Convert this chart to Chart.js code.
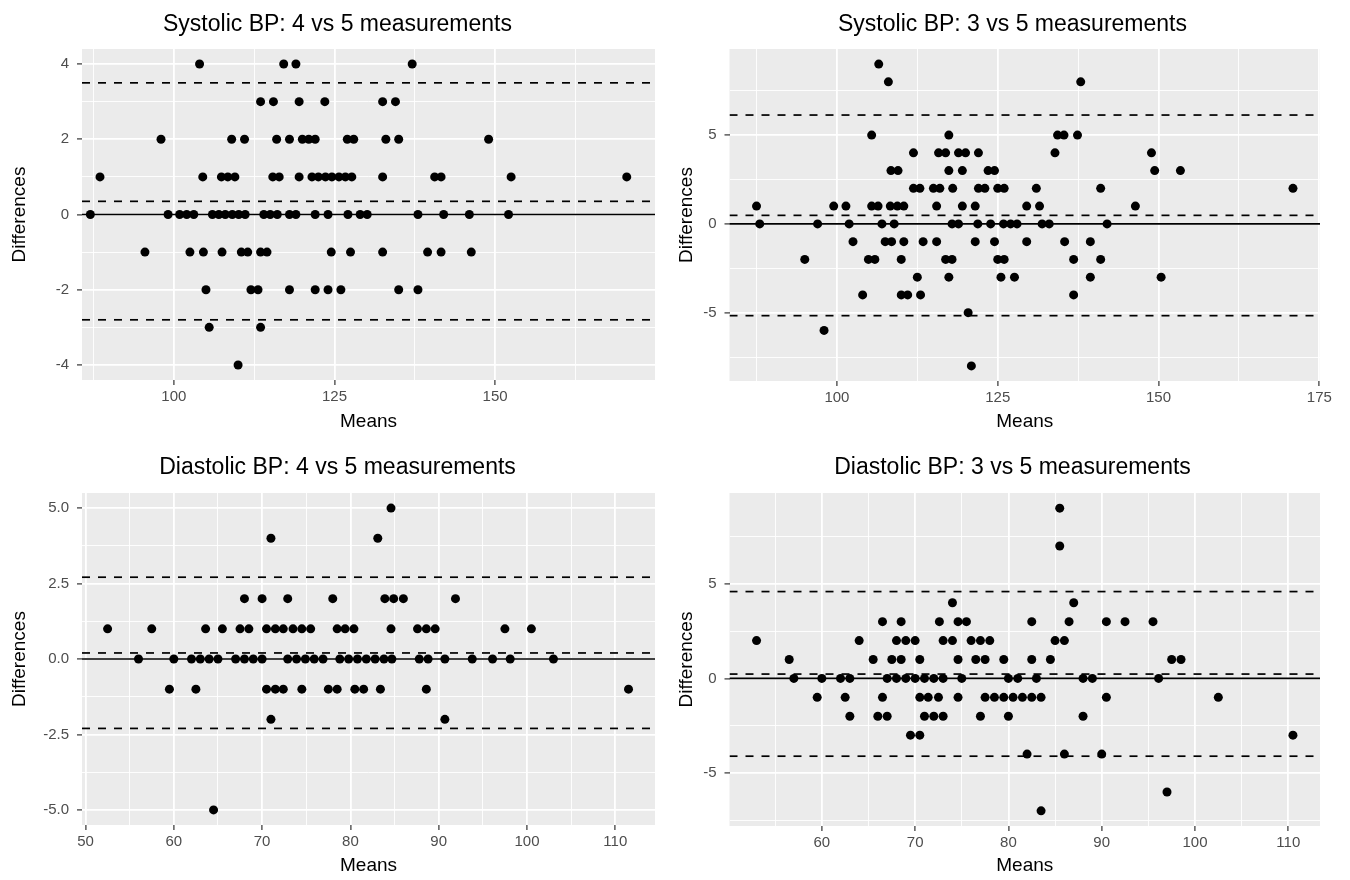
<!DOCTYPE html>
<html>
<head>
<meta charset="utf-8">
<script src="https://cdn.jsdelivr.net/npm/chart.js@4.4.0/dist/chart.umd.min.js"></script>
<style>
  body { margin: 0; background: #ffffff; }
  #wrap { position: relative; width: 1350px; height: 880px; }
  canvas { position: absolute; }
</style>
</head>
<body>
<div id="wrap">
  <canvas id="sys45" width="675" height="440" style="left:0;top:0"></canvas>
  <canvas id="sys35" width="675" height="440" style="left:675px;top:0"></canvas>
  <canvas id="dia45" width="675" height="440" style="left:0;top:440px"></canvas>
  <canvas id="dia35" width="675" height="440" style="left:675px;top:440px"></canvas>
</div>
<script>
// Points are [mean, difference], grouped by difference level

// Systolic BP: 4 vs 5 measurements
const sys45Points = [
  [104, 4], [117.1, 4], [119, 4], [137.1, 4],
  [113.5, 3], [115.5, 3], [119.5, 3], [123.5, 3], [132.5, 3], [134.5, 3],
  [98, 2], [109, 2], [111, 2], [116, 2], [118, 2], [120, 2], [121, 2], [122, 2], [127, 2],
  [128, 2], [133, 2], [135, 2], [149, 2],
  [88.5, 1], [104.5, 1], [107.4, 1], [108.4, 1], [109.5, 1], [115.4, 1], [116.4, 1], [119.5, 1],
  [121.5, 1], [122.5, 1], [123.6, 1], [124.6, 1], [125.7, 1], [126.7, 1], [127.7, 1], [132.5, 1],
  [140.6, 1], [141.6, 1], [152.5, 1], [170.5, 1],
  [87, 0], [99.1, 0], [100.9, 0], [102, 0], [103.1, 0], [106, 0], [107, 0], [108, 0], [109.1, 0],
  [110.1, 0], [111.1, 0], [114, 0], [115, 0], [116.1, 0], [118, 0], [119, 0], [122, 0], [124, 0],
  [127.1, 0], [129, 0], [130.1, 0], [138, 0], [142, 0], [146, 0], [152.1, 0],
  [95.5, -1], [102.5, -1], [104.6, -1], [107.5, -1], [110.5, -1], [111.5, -1], [113.5, -1],
  [114.5, -1], [124.5, -1], [127.5, -1], [132.5, -1], [139.5, -1], [141.6, -1], [146.3, -1],
  [105, -2], [112, -2], [113.1, -2], [118, -2], [122, -2], [124, -2], [126, -2], [135, -2], [138, -2],
  [105.5, -3], [113.5, -3],
  [110, -4]
];
const sys45Limits = [3.50, 0.35, -2.80];   // upper LoA, mean difference, lower LoA
const sys45XRange = [85.7, 174.9];
const sys45YRange = [-4.4, 4.4];
const sys45XTicks = [100, 125, 150];
const sys45YTicks = [-4, -2, 0, 2, 4];

// Systolic BP: 3 vs 5 measurements
const sys35Points = [
  [106.5, 9],
  [108, 8], [137.9, 8],
  [105.4, 5], [117.4, 5], [134.3, 5], [135.3, 5], [137.4, 5],
  [111.9, 4], [115.8, 4], [116.9, 4], [118.9, 4], [120, 4], [122, 4], [133.9, 4], [148.9, 4],
  [108.4, 3], [109.5, 3], [117.4, 3], [119.5, 3], [123.5, 3], [124.5, 3], [149.4, 3], [153.4, 3],
  [111.9, 2], [112.9, 2], [115, 2], [116, 2], [118, 2], [122, 2], [123, 2], [125, 2], [126, 2],
  [131, 2], [141, 2], [170.9, 2],
  [87.5, 1], [99.5, 1], [101.4, 1], [105.4, 1], [106.4, 1], [108.3, 1], [109.4, 1], [110.4, 1],
  [115.5, 1], [119.5, 1], [121.5, 1], [129.5, 1], [131.5, 1], [146.4, 1],
  [88, 0], [97, 0], [101.9, 0], [107, 0], [108.9, 0], [117.9, 0], [118.9, 0], [121.9, 0], [123.9, 0],
  [125.9, 0], [127, 0], [128, 0], [131.9, 0], [133, 0], [142, 0],
  [102.5, -1], [107.5, -1], [108.5, -1], [110.4, -1], [113.4, -1], [115.5, -1], [121.5, -1],
  [124.5, -1], [129.5, -1], [135.4, -1], [139.4, -1],
  [95, -2], [104.9, -2], [105.9, -2], [110, -2], [116.9, -2], [117.9, -2], [125, -2], [126, -2],
  [136.8, -2], [141, -2],
  [112.5, -3], [117.4, -3], [125.5, -3], [127.6, -3], [139.4, -3], [150.4, -3],
  [104, -4], [110, -4], [111, -4], [113, -4], [136.8, -4],
  [120.4, -5],
  [98, -6],
  [120.9, -8]
];
const sys35Limits = [6.13, 0.48, -5.17];
const sys35XRange = [83.3, 175.1];
const sys35YRange = [-8.85, 9.85];
const sys35XTicks = [100, 125, 150, 175];
const sys35YTicks = [-5, 0, 5];

// Diastolic BP: 4 vs 5 measurements
const dia45Points = [
  [84.6, 5],
  [71, 4], [83.1, 4],
  [68, 2], [70, 2], [72.9, 2], [78, 2], [83.9, 2], [84.9, 2], [86, 2], [91.9, 2],
  [52.5, 1], [57.5, 1], [63.6, 1], [65.5, 1], [67.5, 1], [68.5, 1], [70.5, 1], [71.5, 1], [72.4, 1],
  [73.5, 1], [74.5, 1], [75.5, 1], [78.5, 1], [79.4, 1], [80.4, 1], [84.6, 1], [87.6, 1], [88.6, 1],
  [89.6, 1], [97.5, 1], [100.5, 1],
  [56, 0], [60, 0], [62, 0], [63, 0], [64, 0], [65, 0], [67, 0], [68, 0], [69, 0], [70, 0],
  [72.9, 0], [73.9, 0], [74.9, 0], [75.9, 0], [76.9, 0], [78.8, 0], [79.8, 0], [80.8, 0], [81.8, 0],
  [82.8, 0], [83.8, 0], [84.7, 0], [87.8, 0], [88.8, 0], [90.7, 0], [93.8, 0], [96.1, 0], [98.1, 0],
  [103, 0],
  [59.5, -1], [62.5, -1], [70.5, -1], [71.5, -1], [72.4, -1], [74.5, -1], [77.5, -1], [78.5, -1],
  [80.5, -1], [81.5, -1], [83.4, -1], [88.6, -1], [111.5, -1],
  [71, -2], [90.7, -2],
  [64.5, -5]
];
const dia45Limits = [2.71, 0.20, -2.30];
const dia45XRange = [49.6, 114.5];
const dia45YRange = [-5.5, 5.5];
const dia45XTicks = [50, 60, 70, 80, 90, 100, 110];
const dia45YTicks = [-5, -2.5, 0, 2.5, 5];

// Diastolic BP: 3 vs 5 measurements
const dia35Points = [
  [85.5, 9],
  [85.5, 7],
  [74, 4], [87, 4],
  [66.5, 3], [68.5, 3], [72.6, 3], [74.6, 3], [75.5, 3], [82.5, 3], [86.5, 3], [90.5, 3],
  [92.5, 3], [95.5, 3],
  [53, 2], [64, 2], [68, 2], [69, 2], [70, 2], [73, 2], [74, 2], [76, 2], [77, 2], [78, 2],
  [85, 2], [86, 2],
  [56.5, 1], [65.5, 1], [67.5, 1], [68.5, 1], [70.5, 1], [74.6, 1], [76.5, 1], [77.5, 1],
  [79.5, 1], [82.5, 1], [84.5, 1], [97.5, 1], [98.5, 1],
  [57, 0], [60, 0], [62, 0], [63, 0], [67, 0], [68, 0], [69, 0], [70, 0], [71, 0], [72, 0],
  [73, 0], [75, 0], [80, 0], [81, 0], [83, 0], [88, 0], [89, 0], [96.1, 0],
  [59.5, -1], [62.5, -1], [66.5, -1], [70.5, -1], [71.4, -1], [72.5, -1], [74.6, -1], [77.5, -1],
  [78.5, -1], [79.5, -1], [80.5, -1], [81.5, -1], [82.5, -1], [83.5, -1], [90.5, -1], [102.5, -1],
  [63, -2], [66, -2], [67, -2], [71, -2], [72, -2], [73, -2], [77, -2], [80, -2], [88, -2],
  [69.5, -3], [70.5, -3], [110.5, -3],
  [82, -4], [86, -4], [90, -4],
  [97, -6],
  [83.5, -7]
];
const dia35Limits = [4.59, 0.23, -4.11];
const dia35XRange = [50.1, 113.4];
const dia35YRange = [-7.8, 9.8];
const dia35XTicks = [60, 70, 80, 90, 100, 110];
const dia35YTicks = [-5, 0, 5];

const FONT = '"Liberation Sans", Arial, sans-serif';

function isMajor(v, majors) {
  return majors.some(m => Math.abs(m - v) < 1e-6);
}

// grey panel background
const panelBg = {
  id: 'panelBg',
  beforeDraw(chart) {
    const { ctx, chartArea: a } = chart;
    ctx.save();
    ctx.fillStyle = '#ebebeb';
    ctx.fillRect(a.left, a.top, a.right - a.left, a.bottom - a.top);
    ctx.restore();
  }
};

// title centred over the whole sub-plot
const panelTitle = {
  id: 'panelTitle',
  afterDraw(chart, args, opts) {
    const ctx = chart.ctx;
    ctx.save();
    ctx.font = '23px ' + FONT;
    ctx.fillStyle = '#000000';
    ctx.textAlign = 'center';
    ctx.textBaseline = 'middle';
    ctx.fillText(opts.text, chart.width / 2, opts.y);
    ctx.restore();
  }
};

function axis(range, step, majors, digits, title, tickPad, titlePad, fit) {
  return {
    type: 'linear',
    min: range[0],
    max: range[1],
    border: { display: false },
    grid: {
      color: '#ffffff',
      lineWidth: c => (c.tick && isMajor(c.tick.value, majors)) ? 1.8 : 0.9,
      tickColor: c => (c.tick && isMajor(c.tick.value, majors)) ? '#333333' : 'rgba(0,0,0,0)',
      tickLength: 5,
      tickWidth: 1.2
    },
    ticks: {
      stepSize: step,
      includeBounds: false,
      autoSkip: false,
      maxRotation: 0,
      padding: tickPad,
      color: '#4d4d4d',
      font: { family: FONT, size: 15 },
      callback: v => isMajor(v, majors) ? v.toFixed(digits) : ''
    },
    title: {
      display: true,
      text: title,
      color: '#000000',
      font: { family: FONT, size: 19 },
      padding: titlePad
    },
    afterFit: fit
  };
}

function drawPanel(id, p) {
  const [xlo, xhi] = p.xRange;
  const hline = (v, dashed) => ({
    type: 'line',
    data: [{ x: xlo, y: v }, { x: xhi, y: v }],
    borderColor: '#000000',
    borderWidth: 1.7,
    borderDash: dashed ? [8, 8] : [],
    pointRadius: 0,
    order: 2
  });

  return new Chart(document.getElementById(id), {
    type: 'scatter',
    data: {
      datasets: [
        {
          data: p.points.map(([x, y]) => ({ x, y })),
          backgroundColor: '#000000',
          borderColor: '#000000',
          borderWidth: 0,
          pointRadius: 4.5,
          pointHoverRadius: 4.5,
          order: 1
        },
        ...p.limits.map(v => hline(v, true)),
        hline(0, false)
      ]
    },
    options: {
      responsive: false,
      animation: false,
      events: [],
      layout: { padding: { top: p.top, right: p.right, left: 0, bottom: 0 } },
      plugins: {
        legend: { display: false },
        tooltip: { enabled: false },
        panelTitle: { text: p.title, y: p.titleY }
      },
      scales: {
        x: axis(p.xRange, p.xStep, p.xTicks, 0, 'Means', 3, { top: 0, bottom: p.xTitlePad },
          s => { s.height = p.xHeight; s.paddingLeft = 0; s.paddingRight = 0; }),
        y: axis(p.yRange, p.yStep, p.yTicks, p.yDigits, 'Differences', 8, { top: p.yTitlePad, bottom: 0 },
          s => { s.width = p.yWidth; s.paddingTop = 0; s.paddingBottom = 0; })
      }
    },
    plugins: [panelBg, panelTitle]
  });
}

drawPanel('sys45', {
  title: 'Systolic BP: 4 vs 5 measurements', titleY: 25,
  points: sys45Points, limits: sys45Limits,
  xRange: sys45XRange, yRange: sys45YRange, xTicks: sys45XTicks, yTicks: sys45YTicks,
  xStep: 12.5, yStep: 1, yDigits: 0,
  top: 49, right: 20, yWidth: 82, xHeight: 60, xTitlePad: 6.6, yTitlePad: 8.6
});

drawPanel('sys35', {
  title: 'Systolic BP: 3 vs 5 measurements', titleY: 25,
  points: sys35Points, limits: sys35Limits,
  xRange: sys35XRange, yRange: sys35YRange, xTicks: sys35XTicks, yTicks: sys35YTicks,
  xStep: 12.5, yStep: 2.5, yDigits: 0,
  top: 49, right: 30, yWidth: 54.5, xHeight: 59, xTitlePad: 6.6, yTitlePad: 0
});

drawPanel('dia45', {
  title: 'Diastolic BP: 4 vs 5 measurements', titleY: 28,
  points: dia45Points, limits: dia45Limits,
  xRange: dia45XRange, yRange: dia45YRange, xTicks: dia45XTicks, yTicks: dia45YTicks,
  xStep: 5, yStep: 1.25, yDigits: 1,
  top: 53, right: 20, yWidth: 82, xHeight: 55, xTitlePad: 2.6, yTitlePad: 8.6
});

drawPanel('dia35', {
  title: 'Diastolic BP: 3 vs 5 measurements', titleY: 28,
  points: dia35Points, limits: dia35Limits,
  xRange: dia35XRange, yRange: dia35YRange, xTicks: dia35XTicks, yTicks: dia35YTicks,
  xStep: 5, yStep: 2.5, yDigits: 0,
  top: 53, right: 30, yWidth: 54.5, xHeight: 54, xTitlePad: 2.6, yTitlePad: 0
});
</script>
</body>
</html>
